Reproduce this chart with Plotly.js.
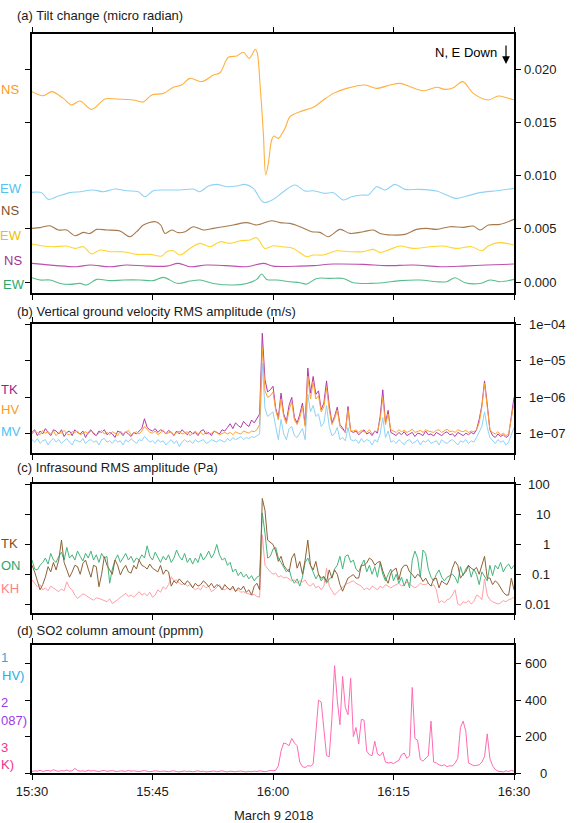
<!DOCTYPE html>
<html><head><meta charset="utf-8">
<script src="https://cdn.plot.ly/plotly-3.0.1.min.js"></script>
<style>html,body{margin:0;padding:0;background:#fff;}#chart{width:579px;height:823px;}</style>
</head><body><div id="chart"></div>
<script>
// ---------- axis ticks / labels ----------
const timeTickVals = [0, 15, 30, 45, 60];
const timeTickText = ["15:30", "15:45", "16:00", "16:15", "16:30"];
const dateLabel = "March 9 2018";
const panelTitles = ["(a) Tilt change (micro radian)", "(b) Vertical ground velocity RMS amplitude (m/s)", "(c) Infrasound RMS amplitude (Pa)", "(d) SO2 column amount (ppmm)"];
const tiltTickVals = [0, 0.005, 0.010, 0.015, 0.020];
const tiltTickText = ["0.000", "0.005", "0.010", "0.015", "0.020"];
const velTickVals = [1e-7, 1e-6, 1e-5, 1e-4];
const velTickText = ["1e\u221207", "1e\u221206", "1e\u221205", "1e\u221204"];
const infraTickVals = [0.01, 0.1, 1, 10, 100];
const infraTickText = ["0.01", "0.1", "1", "10", "100"];
const so2TickVals = [0, 200, 400, 600];
const so2TickText = ["0", "200", "400", "600"];
const tiltNote = "N, E Down";

// ---------- (a) tilt, minutes after 15:30 ----------
const tiltNS1_t = [0,1.41,2.45,3.90,4.94,5.98,7.43,9.09,10.54,12.61,13.86,14.90,16.35,17.59,18.63,19.67,21.12,22.57,23.40,24.44,25.48,26.31,27.05,27.80,28.05,28.38,28.80,29.09,29.42,29.83,30.12,30.66,31.49,32.12,33.36,35.02,36.27,37.51,39.17,41.45,42.90,44.56,45.81,47.05,48.71,50.37,51.41,52.45,53.62,54.94,56.80,58.05,59.09,60];
const tiltNS1 = [0.01789,0.01751,0.01789,0.01726,0.01664,0.01701,0.01623,0.01720,0.01720,0.01711,0.01692,0.01758,0.01773,0.01830,0.01852,0.01914,0.01883,0.01945,0.01967,0.02112,0.02124,0.02159,0.02102,0.02187,0.02149,0.01867,0.01397,0.01006,0.01115,0.01335,0.01372,0.01350,0.01444,0.01554,0.01601,0.01642,0.01711,0.01773,0.01820,0.01852,0.01820,0.01852,0.01867,0.01836,0.01798,0.01830,0.01811,0.01826,0.01883,0.01773,0.01711,0.01748,0.01732,0.01711];
const tiltEW1_t = [0,1.20,2.03,3.28,4.73,5.98,7.63,8.88,10.33,11.78,13.24,14.07,15.10,16.76,18.42,20.08,20.91,21.95,22.99,24.23,25.48,26.51,27.55,28.80,30.04,31.29,32.74,33.98,35.02,36.47,37.51,38.76,39.79,41.04,41.87,42.90,43.94,45.19,46.43,48.30,50.37,51.62,52.86,54.11,55.77,57.84,60];
const tiltEW1 = [0.00843,0.00840,0.00777,0.00808,0.00840,0.00849,0.00865,0.00849,0.00874,0.00858,0.00849,0.00802,0.00858,0.00865,0.00865,0.00874,0.00849,0.00902,0.00918,0.00896,0.00902,0.00918,0.00880,0.00749,0.00777,0.00849,0.00912,0.00855,0.00858,0.00833,0.00840,0.00771,0.00802,0.00818,0.00818,0.00896,0.00865,0.00918,0.00871,0.00871,0.00855,0.00818,0.00786,0.00808,0.00840,0.00858,0.00880];
const tiltNS2_t = [0,1.0,2.24,3.28,4.32,5.35,6.39,7.22,8.05,9.29,10.95,12.20,13.03,13.86,15.39,16.02,16.56,17.39,18.22,19.05,20.08,21.33,22.57,23.82,25.06,26.72,27.97,29.83,30.87,32.12,33.36,34.81,35.85,36.89,38.34,39.59,41.24,42.49,43.32,44.77,46.43,47.88,49.13,50.37,52.03,53.69,54.94,55.77,56.80,58.26,60];
const tiltNS2 = [0.00504,0.00511,0.00529,0.00489,0.00489,0.00435,0.00467,0.00457,0.00495,0.00489,0.00479,0.00426,0.00473,0.00536,0.00567,0.00536,0.00457,0.00489,0.00464,0.00473,0.00520,0.00489,0.00504,0.00520,0.00536,0.00558,0.00536,0.00576,0.00558,0.00551,0.00520,0.00473,0.00467,0.00426,0.00495,0.00457,0.00473,0.00489,0.00457,0.00442,0.00448,0.00495,0.00504,0.00495,0.00520,0.00514,0.00526,0.00489,0.00536,0.00542,0.00589];
const tiltEW2_t = [0,1.41,2.66,4.32,5.35,6.39,7.43,8.46,9.71,11.37,13.03,14.69,16.14,16.76,17.59,18.42,19.67,20.91,22.16,23.40,24.65,25.89,27.14,27.97,29.00,30.04,31.08,32.53,34.19,35.02,36.27,37.93,39.59,41.24,42.49,43.32,44.56,45.81,47.47,49.54,51.20,52.86,54.73,55.98,56.80,58.05,60];
const tiltEW2 = [0.00357,0.00338,0.00332,0.00338,0.00316,0.00332,0.00263,0.00301,0.00285,0.00285,0.00260,0.00260,0.00244,0.00285,0.00294,0.00254,0.00316,0.00363,0.00332,0.00379,0.00363,0.00388,0.00395,0.00417,0.00316,0.00341,0.00332,0.00316,0.00238,0.00254,0.00254,0.00294,0.00285,0.00285,0.00307,0.00279,0.00307,0.00338,0.00316,0.00332,0.00338,0.00316,0.00332,0.00294,0.00338,0.00370,0.00348];
const tiltNS3_t = [0,1.41,3.07,5.56,7.22,9.71,11.78,14.27,16.76,18.22,19.67,21.74,24.23,26.72,28.80,30.04,33.36,35.02,37.51,41.24,44.15,47.47,50.79,53.69,56.59,60];
const tiltNS3 = [0.00175,0.00166,0.00154,0.00144,0.00160,0.00144,0.00160,0.00150,0.00150,0.00175,0.00144,0.00160,0.00154,0.00144,0.00175,0.00150,0.00150,0.00154,0.00169,0.00166,0.00154,0.00160,0.00144,0.00150,0.00160,0.00169];
const tiltEW3_t = [0,1.0,2.24,3.49,4.73,5.98,6.81,8.05,9.71,11.37,13.44,15.10,16.35,18.15,19.67,20.91,22.57,25.06,26.72,27.97,28.59,29.21,30.46,32.12,33.36,34.19,35.44,37.10,38.76,39.99,42.07,43.73,45.81,48.30,50.37,51.62,52.66,53.90,55.77,57.01,58.26,60];
const tiltEW3 = [0.00041,0.00019,0.00019,-0.00013,-0.00022,-0.00013,-0.00028,0.00025,0.00013,0.00019,0.00019,0.00013,0.00044,-0.00013,0.00009,0.00019,-0.00013,-0.00028,-0.00013,0.00025,0.00075,0.00025,0.00019,0.00003,-0.00006,-0.00019,0.00034,0.00034,0.00034,-0.00006,-0.00013,-0.00006,0.00013,0.00019,0.00003,0.00003,0.00041,-0.00006,-0.00013,0.00019,0.00003,0.00025];
const tiltNames = ["NS", "EW", "NS", "EW", "NS", "EW"];

// ---------- sampled series: one value every 20 s from 15:30 ----------
const sampleStart = 0;      // minutes after 15:30
const sampleStep = 1 / 3;   // minutes (20 s)

// (b) vertical ground velocity RMS (m/s)
const velTK = [
1.1e-7,1.3e-7,0.9e-7,1.2e-7,1.0e-7,1.4e-7,1.1e-7,0.9e-7,1.3e-7,1.2e-7,
1.0e-7,1.3e-7,0.85e-7,1.1e-7,1.2e-7,0.9e-7,1.3e-7,1.1e-7,1.0e-7,1.2e-7,
0.8e-7,1.1e-7,1.3e-7,1.0e-7,0.9e-7,1.2e-7,1.1e-7,1.3e-7,0.95e-7,1.1e-7,
1.0e-7,0.8e-7,1.2e-7,1.1e-7,0.9e-7,1.15e-7,1.0e-7,0.85e-7,1.1e-7,1.0e-7,
1.2e-7,1.4e-7,2.6e-7,1.5e-7,1.3e-7,1.2e-7,1.4e-7,1.1e-7,1.3e-7,1.2e-7,
1.0e-7,1.25e-7,1.1e-7,0.9e-7,1.2e-7,1.0e-7,1.3e-7,1.1e-7,0.95e-7,1.2e-7,
1.0e-7,1.1e-7,0.9e-7,1.2e-7,1.3e-7,1.0e-7,1.1e-7,0.9e-7,1.2e-7,1.1e-7,
1.0e-7,1.3e-7,1.2e-7,
1.5e-7,1.9e-7,1.4e-7,2.0e-7,1.7e-7,1.5e-7,2.2e-7,1.8e-7,1.6e-7,2.4e-7,2.0e-7,2.6e-7,3.5e-7,
5.6e-5,
3.0e-6,1.4e-6,1.6e-6,2.0e-6,5.0e-7,2.8e-7,1.3e-6,3.5e-7,2.2e-7,6.0e-7,1.0e-6,2.8e-7,2.0e-7,3.4e-7,7.0e-7,1.8e-7,
6.3e-6,1.3e-6,3.7e-6,1.2e-6,1.5e-6,4.6e-7,7.0e-7,2.8e-6,6.0e-7,2.0e-7,3.0e-7,5.4e-7,1.8e-7,1.45e-7,1.1e-7,5.6e-7,1.2e-7,
1.1e-7,1.2e-7,0.95e-7,1.15e-7,1.3e-7,1.0e-7,1.1e-7,0.9e-7,1.2e-7,1.05e-7,
3.0e-7,1.6e-6,2.0e-7,4.4e-7,1.1e-7,
1.0e-7,0.9e-7,1.1e-7,0.95e-7,1.15e-7,0.9e-7,1.0e-7,1.1e-7,0.85e-7,1.05e-7,
1.0e-7,0.9e-7,1.2e-7,0.95e-7,1.0e-7,0.88e-7,1.1e-7,1.0e-7,0.9e-7,1.05e-7,
1.15e-7,0.95e-7,1.0e-7,0.85e-7,1.1e-7,1.0e-7,0.9e-7,1.05e-7,0.95e-7,1.1e-7,
1.0e-7,
1.3e-7,2.5e-7,6.0e-7,2.8e-6,6.5e-7,1.3e-7,
0.9e-7,0.8e-7,1.0e-7,0.85e-7,0.95e-7,0.8e-7,0.9e-7,
3.5e-7,1.0e-6];
const velHV = [
1.0e-7,1.2e-7,1.1e-7,0.95e-7,1.25e-7,1.05e-7,1.15e-7,1.0e-7,1.2e-7,0.9e-7,
1.1e-7,1.05e-7,1.25e-7,1.0e-7,0.95e-7,1.15e-7,1.1e-7,1.2e-7,0.95e-7,1.05e-7,
1.15e-7,1.0e-7,1.2e-7,1.1e-7,0.9e-7,1.05e-7,1.25e-7,1.0e-7,1.1e-7,0.95e-7,
1.15e-7,1.05e-7,0.9e-7,1.2e-7,1.0e-7,1.1e-7,1.25e-7,0.95e-7,1.05e-7,1.15e-7,
1.0e-7,1.2e-7,1.6e-7,1.3e-7,1.1e-7,1.05e-7,1.2e-7,0.95e-7,1.1e-7,1.25e-7,
1.0e-7,1.05e-7,1.15e-7,0.95e-7,1.1e-7,1.2e-7,1.0e-7,1.05e-7,1.15e-7,0.9e-7,
1.05e-7,1.2e-7,1.0e-7,1.1e-7,0.95e-7,1.15e-7,1.0e-7,1.05e-7,1.2e-7,1.1e-7,
0.95e-7,1.05e-7,1.1e-7,
1.0e-7,1.1e-7,0.95e-7,1.15e-7,1.05e-7,1.0e-7,1.2e-7,1.1e-7,1.05e-7,1.2e-7,1.15e-7,1.3e-7,1.8e-7,
2.2e-5,
1.5e-6,1.0e-6,1.1e-6,1.4e-6,4.5e-7,2.4e-7,9.0e-7,3.0e-7,1.9e-7,4.5e-7,7.5e-7,2.4e-7,1.8e-7,2.8e-7,5.5e-7,1.6e-7,
3.7e-6,9.0e-7,2.7e-6,9.0e-7,1.1e-6,4.0e-7,5.5e-7,1.8e-6,4.5e-7,1.8e-7,2.6e-7,4.5e-7,1.6e-7,1.3e-7,1.1e-7,4.5e-7,1.2e-7,
1.2e-7,1.3e-7,1.1e-7,1.25e-7,1.15e-7,1.1e-7,1.3e-7,1.0e-7,1.2e-7,1.15e-7,
2.4e-7,1.0e-6,1.8e-7,3.5e-7,1.3e-7,
1.2e-7,1.1e-7,1.3e-7,1.15e-7,1.25e-7,1.1e-7,1.2e-7,1.35e-7,1.1e-7,1.2e-7,
1.25e-7,1.1e-7,1.3e-7,1.2e-7,1.15e-7,1.1e-7,1.25e-7,1.3e-7,1.1e-7,1.2e-7,
1.35e-7,1.15e-7,1.2e-7,1.1e-7,1.3e-7,1.2e-7,1.15e-7,1.25e-7,1.1e-7,1.2e-7,
1.15e-7,
1.3e-7,2.0e-7,5.5e-7,2.4e-6,5.5e-7,1.3e-7,
1.1e-7,1.0e-7,1.15e-7,0.95e-7,1.05e-7,0.9e-7,1.0e-7,
2.5e-7,7.0e-7];
const velMV = [
0.7e-7,0.6e-7,0.75e-7,0.55e-7,0.65e-7,0.7e-7,0.5e-7,0.65e-7,0.75e-7,0.6e-7,
0.7e-7,0.55e-7,0.65e-7,0.75e-7,0.6e-7,0.5e-7,0.7e-7,0.65e-7,0.6e-7,0.75e-7,
0.55e-7,0.65e-7,0.7e-7,0.6e-7,0.65e-7,0.5e-7,0.7e-7,0.75e-7,0.6e-7,0.65e-7,
0.55e-7,0.7e-7,0.6e-7,0.65e-7,0.5e-7,0.7e-7,0.6e-7,0.75e-7,0.65e-7,0.55e-7,
0.7e-7,0.65e-7,0.85e-7,0.7e-7,0.6e-7,0.65e-7,0.55e-7,0.7e-7,0.6e-7,0.65e-7,
0.5e-7,0.6e-7,0.7e-7,0.55e-7,0.65e-7,0.45e-7,0.6e-7,0.7e-7,0.6e-7,0.65e-7,
0.55e-7,0.7e-7,0.6e-7,0.65e-7,0.7e-7,0.55e-7,0.6e-7,0.7e-7,0.65e-7,0.6e-7,
0.7e-7,0.65e-7,0.6e-7,
0.75e-7,0.65e-7,0.8e-7,0.7e-7,0.75e-7,0.85e-7,0.7e-7,0.8e-7,0.75e-7,0.85e-7,0.8e-7,0.9e-7,1.0e-7,
8.5e-6,
5.0e-7,3.0e-7,3.5e-7,4.0e-7,1.6e-7,0.7e-7,2.5e-7,1.0e-7,0.7e-7,1.4e-7,1.6e-7,0.9e-7,0.8e-7,1.1e-7,1.4e-7,0.7e-7,
1.2e-6,4.0e-7,6.0e-7,3.0e-7,3.5e-7,1.6e-7,2.0e-7,6.0e-7,1.6e-7,0.9e-7,1.0e-7,1.5e-7,0.7e-7,0.8e-7,0.65e-7,1.5e-7,0.7e-7,
0.65e-7,0.7e-7,0.55e-7,0.75e-7,0.6e-7,0.7e-7,0.65e-7,0.5e-7,0.7e-7,0.6e-7,
1.0e-7,2.8e-7,0.8e-7,1.2e-7,0.6e-7,
0.65e-7,0.55e-7,0.7e-7,0.6e-7,0.5e-7,0.65e-7,0.7e-7,0.55e-7,0.6e-7,0.7e-7,
0.5e-7,0.65e-7,0.6e-7,0.7e-7,0.55e-7,0.6e-7,0.65e-7,0.5e-7,0.7e-7,0.6e-7,
0.55e-7,0.65e-7,0.7e-7,0.6e-7,0.5e-7,0.65e-7,0.6e-7,0.7e-7,0.55e-7,0.65e-7,
0.6e-7,
0.8e-7,1.1e-7,1.6e-7,4.0e-7,1.5e-7,0.8e-7,
0.65e-7,0.55e-7,0.7e-7,0.6e-7,0.65e-7,0.5e-7,0.6e-7,
0.9e-7,1.5e-7];
const velNames = ["TK", "HV", "MV"];

// (c) infrasound RMS (Pa)
const infraTK = [
0.2,0.12,0.06,0.03,0.045,0.08,0.18,0.12,0.25,0.14,
0.3,1.4,0.25,0.15,0.08,0.12,0.2,0.18,0.1,0.23,
0.3,0.15,0.08,0.2,0.18,0.038,0.1,0.39,0.2,0.14,
0.1,0.3,0.2,0.095,0.15,0.2,0.12,0.11,0.2,0.15,
0.3,0.2,0.18,0.15,0.22,0.16,0.14,0.12,0.2,0.1,
0.14,0.12,0.04,0.06,0.05,0.07,0.055,0.045,0.06,0.05,
0.035,0.05,0.04,0.045,0.06,0.05,0.038,0.05,0.035,0.045,
0.04,0.03,0.045,0.035,0.03,0.04,0.026,0.035,0.03,0.04,
0.025,0.03,0.02,0.04,0.05,0.03,
35,
14,1.4,1.2,1.0,0.6,0.27,0.4,0.2,0.15,0.12,
0.35,0.5,0.16,0.27,0.1,0.3,1.4,0.2,0.14,0.27,
0.1,0.074,0.085,0.057,0.14,0.074,0.14,0.1,0.045,0.027,
0.045,0.074,0.085,0.098,0.074,0.075,0.2,0.2,0.24,0.35,
0.3,0.2,0.25,0.27,0.13,0.074,0.05,0.11,0.14,0.16,
0.065,0.15,0.2,0.2,0.12,
0.1,0.074,0.1,0.085,0.057,0.074,0.05,0.04,
0.07,0.074,0.035,0.06,0.05,0.045,0.07,0.16,0.27,0.2,
0.074,0.1,0.12,0.2,0.16,0.14,0.17,0.1,0.2,0.4,
0.074,0.075,0.045,0.06,0.05,0.035,0.025,0.02,0.02,0.074,0.03];
const infraON = [
0.3,0.15,0.14,0.2,0.25,0.35,0.22,0.5,0.3,0.25,
0.4,0.55,0.3,0.8,0.35,0.45,0.3,0.6,0.4,0.28,
0.5,0.35,0.6,0.3,0.45,0.25,0.5,0.35,0.4,0.05,
0.15,0.3,0.45,0.25,0.35,0.5,0.3,0.4,0.25,0.35,
0.3,0.45,0.35,0.9,0.4,0.3,0.55,0.35,0.25,0.4,
0.3,0.45,0.25,0.35,0.65,0.4,0.3,0.5,0.25,0.35,
0.22,0.35,0.25,0.5,0.3,0.4,0.6,0.35,0.5,1.0,
0.45,0.3,0.35,0.2,0.25,0.12,0.15,0.09,0.12,0.08,
0.1,0.07,0.09,0.06,0.08,0.09,
11.5,
2.4,0.35,0.4,0.7,0.8,0.35,0.25,0.18,0.12,0.15,
0.07,0.05,0.07,0.04,0.08,0.25,0.35,0.2,0.12,0.07,
0.1,0.06,0.08,0.05,0.07,0.08,0.15,0.2,0.4,0.15,
0.4,0.45,0.25,0.3,0.15,0.12,0.2,0.3,0.12,0.2,
0.1,0.18,0.08,0.25,0.1,0.06,0.1,0.15,0.06,0.1,
0.05,0.08,0.04,0.07,0.035,
0.3,0.6,0.35,0.08,0.65,0.5,0.15,0.08,
0.06,0.1,0.14,0.08,0.06,0.08,0.09,0.1,0.08,0.05,
0.18,0.09,0.15,0.2,0.08,0.15,0.1,0.045,0.12,0.08,
0.06,0.2,0.09,0.2,0.15,0.25,0.12,0.18,0.22,0.15,0.2];
const infraKH = [
0.065,0.05,0.038,0.045,0.03,0.035,0.028,0.04,0.034,0.03,
0.026,0.032,0.028,0.056,0.035,0.03,0.02,0.0155,0.018,0.022,
0.02,0.017,0.015,0.0135,0.016,0.0155,0.014,0.013,0.012,0.015,
0.0105,0.012,0.014,0.017,0.02,0.023,0.018,0.02,0.017,0.022,
0.026,0.02,0.023,0.019,0.025,0.017,0.02,0.03,0.025,0.038,
0.032,0.045,0.083,0.06,0.065,0.05,0.045,0.049,0.04,0.045,
0.038,0.03,0.035,0.03,0.044,0.035,0.04,0.026,0.03,0.038,
0.045,0.032,0.03,0.035,0.03,0.034,0.028,0.03,0.025,0.026,
0.023,0.022,0.02,0.021,0.018,0.017,
2.1,
0.2,0.15,0.12,0.1,0.11,0.08,0.09,0.075,0.08,0.07,
0.06,0.065,0.05,0.06,0.055,0.065,0.045,0.04,0.05,0.035,
0.04,0.03,0.04,0.16,0.04,0.028,0.02,0.025,0.03,0.035,
0.045,0.05,0.055,0.06,0.05,0.045,0.04,0.03,0.035,0.03,
0.04,0.035,0.03,0.04,0.035,0.045,0.04,0.035,0.04,0.045,
0.05,0.04,0.045,0.055,0.05,
0.04,0.035,0.04,0.05,0.045,0.045,0.05,0.04,
0.045,0.03,0.011,0.013,0.011,0.014,0.015,0.02,0.03,0.01,
0.009,0.012,0.011,0.013,0.01,0.012,0.02,0.018,0.014,0.07,
0.02,0.014,0.012,0.011,0.01,0.011,0.013,0.012,0.014,0.015,0.017];
const infraNames = ["TK", "ON", "KH"];

// (d) SO2 column amount (ppmm), camera 3
const so2Cam3 = [
8,12,10,15,9,11,14,10,18,12, 9,13,11,16,10,12,25,14,10,12, 9,15,11,13,10,8,12,14,9,11,
13,10,8,12,11,9,14,10,12,9, 8,11,13,10,7,9,12,10,8,11, 9,7,10,12,8,6,9,11,8,10,
7,9,12,8,10,6,9,8,11,7, 9,12,8,6,10,8,7,9,11,8, 6,9,7,10,8,12,9,7,10,14,
12,15,40,120,165,160,150,190,165,150,
60,35,30,40,38,50,220,400,390,220,
95,90,300,590,400,265,530,360,320,520,
200,250,160,295,290,120,100,95,175,105,
95,115,60,55,58,52,60,70,100,110,
80,95,470,190,180,75,65,80,95,285,
60,55,45,40,45,35,40,38,55,80,
250,285,230,55,45,40,42,45,60,90,
215,80,40,20,10,8,6,12,8,14,10];
const so2Names = ["1", "HV)", "2", "087)", "3", "K)"];

// ---------- styling ----------
const FONT = "Liberation Sans, Arial, Helvetica, sans-serif";
const TXT = "#1a1a1a";
const cOrange = "#FFB040", cSky = "#8ED3F5", cBrown = "#A67A4C", cGold = "#FFD52E", cMag = "#BE4FAE", cGreen = "#58BE8C";
const cPurple = "#B03AA8", cOrange2 = "#FFA030", cBrown2 = "#8C6236", cGreen2 = "#45B47C", cPink = "#FFA0A6", cSO2 = "#FF6BB2";

// plot frame in pixels (layout geometry)
const PL = 32, PR = 514, PT = 34, PB = 773;
const fx = p => (p - PL) / (PR - PL);
const fy = p => (PB - p) / (PB - PT);

const traces = [];
function tiltTrace(x, y, color) {
  return {x: x, y: y, xaxis: "x", yaxis: "y", type: "scatter", mode: "lines",
    line: {color: color, width: 1.1, shape: "spline", smoothing: 0.9}, hoverinfo: "skip"};
}
traces.push(tiltTrace(tiltNS1_t, tiltNS1, cOrange));
traces.push(tiltTrace(tiltEW1_t, tiltEW1, cSky));
traces.push(tiltTrace(tiltNS2_t, tiltNS2, cBrown));
traces.push(tiltTrace(tiltEW2_t, tiltEW2, cGold));
traces.push(tiltTrace(tiltNS3_t, tiltNS3, cMag));
traces.push(tiltTrace(tiltEW3_t, tiltEW3, cGreen));
function sampTrace(y, ax, color) {
  return {y: y, x0: sampleStart, dx: sampleStep, xaxis: "x" + ax, yaxis: "y" + ax, type: "scatter", mode: "lines",
    line: {color: color, width: 1}, hoverinfo: "skip"};
}
traces.push(sampTrace(velMV, 2, cSky));
traces.push(sampTrace(velTK, 2, cPurple));
traces.push(sampTrace(velHV, 2, cOrange2));
traces.push(sampTrace(infraKH, 3, cPink));
traces.push(sampTrace(infraON, 3, cGreen2));
traces.push(sampTrace(infraTK, 3, cBrown2));
traces.push(sampTrace(so2Cam3, 4, cSO2));

function xAx(anchor, showLabels) {
  return {domain: [0, 1], anchor: anchor, range: [0, 60], tickmode: "array", tickvals: timeTickVals, ticktext: timeTickText,
    showticklabels: showLabels, ticks: "outside", ticklen: 5, tickwidth: 1, tickcolor: "#000",
    showline: true, linecolor: "#000", linewidth: 2, mirror: "ticks", showgrid: false, zeroline: false,
    tickfont: {family: FONT, size: 13, color: TXT}, fixedrange: true};
}
function yAx(anchor, top, bottom, type, range, tickvals) {
  return {domain: [fy(bottom), fy(top)], anchor: anchor, type: type, range: range, tickmode: "array", tickvals: tickvals,
    showticklabels: false, side: "right", ticks: "outside", ticklen: 5, tickwidth: 1, tickcolor: "#000",
    showline: true, linecolor: "#000", linewidth: 2, mirror: "ticks", showgrid: false, zeroline: false, fixedrange: true};
}

const ann = [];
function txt(text, x, y, color, xanchor, extra) {
  return Object.assign({text: text, x: x, y: y, xref: "paper", yref: "paper", xanchor: xanchor, yanchor: "middle",
    showarrow: false, font: {family: FONT, size: 13, color: color}}, extra || {});
}
// panel titles
[[15, 15], [15, 311], [15, 467], [15, 630]].forEach((p, i) => ann.push(txt(panelTitles[i], fx(p[0]), fy(p[1]), TXT, "left")));
// right-aligned y tick labels
function tickLabels(vals, texts, yref, rightPx, isLog) {
  vals.forEach((v, i) => ann.push({text: texts[i], x: fx(rightPx), xref: "paper", y: isLog ? Math.log10(v) : v, yref: yref,
    xanchor: "right", yanchor: "middle", showarrow: false, font: {family: FONT, size: 13, color: TXT}}));
}
tickLabels(tiltTickVals, tiltTickText, "y", 559, false);
tickLabels(velTickVals, velTickText, "y2", 568, true);
tickLabels(infraTickVals, infraTickText, "y3", 552, true);
tickLabels(so2TickVals, so2TickText, "y4", 549, false);
// date label
ann.push(txt(dateLabel, fx(274), fy(815), TXT, "center"));
// tilt note with arrow
ann.push(txt(tiltNote, fx(499), fy(53), "#000", "right"));
ann.push({text: "", x: fx(506), y: fy(64), xref: "paper", yref: "paper", showarrow: true, ax: 0, ay: -20,
  arrowhead: 2, arrowsize: 1.3, arrowwidth: 1.2, arrowcolor: "#000", standoff: 0});
// left station labels
const tiltLabelPos = [[21, 89, "#FF9A1A"], [24, 189, "#4FC3F2"], [21, 211, "#7F5228"], [24, 235, "#F2BF00"], [24, 260, "#A52F8E"], [27, 284, "#2EA66B"]];
tiltLabelPos.forEach((p, i) => ann.push(txt(tiltNames[i], fx(p[0]), fy(p[1]), p[2], "right")));
const velLabelPos = [[20, 389, "#9A1F8F"], [21, 410, "#FF9A1A"], [23, 432, "#4FC3F2"]];
velLabelPos.forEach((p, i) => ann.push(txt(velNames[i], fx(p[0]), fy(p[1]), p[2], "right")));
const infraLabelPos = [[20, 543, "#7A4E25"], [23, 565, "#2EA66B"], [21, 588, "#FF7F86"]];
infraLabelPos.forEach((p, i) => ann.push(txt(infraNames[i], fx(p[0]), fy(p[1]), p[2], "right")));
const so2LabelPos = [[10, 657, "#1EB0E6"], [26, 675, "#1EB0E6"], [10, 702, "#9B3BE8"], [29, 720, "#9B3BE8"], [10, 747, "#F0348C"], [16, 764, "#F0348C"]];
so2LabelPos.forEach((p, i) => ann.push(txt(so2Names[i], fx(p[0]), fy(p[1]), p[2], "right")));

const layout = {
  width: 579, height: 823, margin: {l: PL, r: 579 - PR, t: PT, b: 823 - PB, pad: 0},
  paper_bgcolor: "#fff", plot_bgcolor: "#fff", showlegend: false, hovermode: false,
  font: {family: FONT, size: 13, color: TXT},
  xaxis: xAx("y", false), xaxis2: xAx("y2", false), xaxis3: xAx("y3", false), xaxis4: xAx("y4", true),
  yaxis: yAx("x", 34, 293, "linear", [-0.00103, 0.02331], tiltTickVals),
  yaxis2: yAx("x2", 324, 453, "log", [-7.52, -4.0], velTickVals),
  yaxis3: yAx("x3", 484, 613, "log", [-2.30, 2.03], infraTickVals),
  yaxis4: yAx("x4", 645, 773, "linear", [0, 703], so2TickVals),
  annotations: ann
};
Plotly.newPlot("chart", traces, layout, {staticPlot: true, displayModeBar: false});
</script></body></html>
